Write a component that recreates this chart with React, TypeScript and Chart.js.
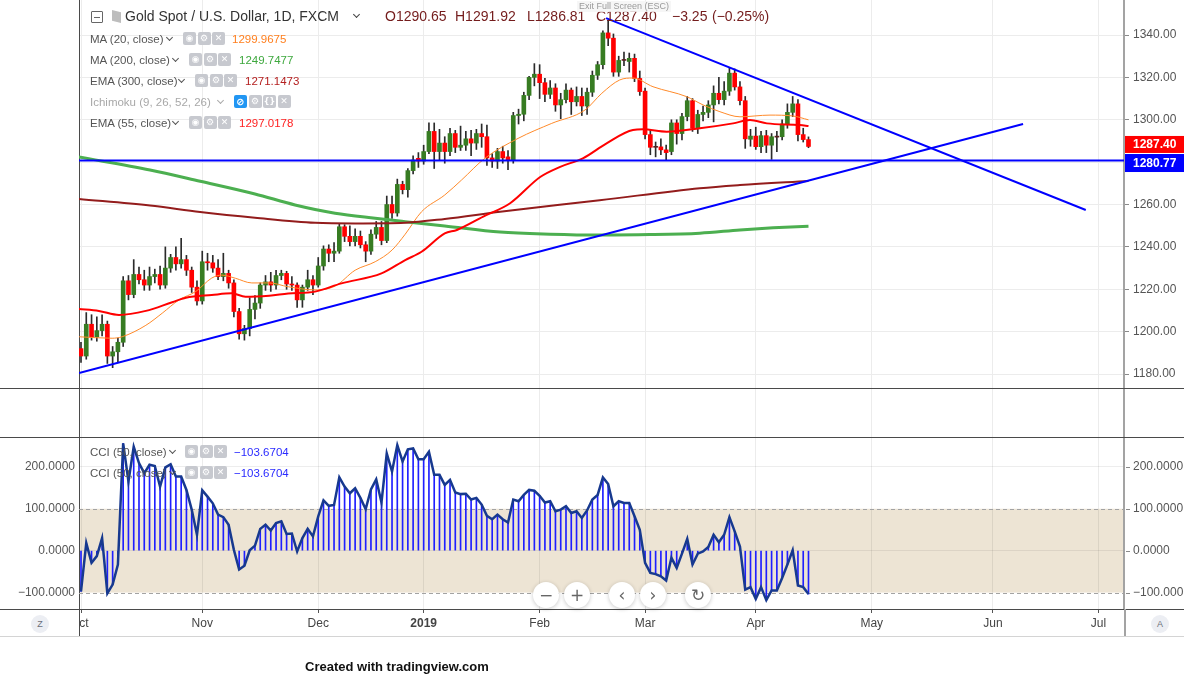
import React, { useEffect, useRef } from 'react';
import { Chart, registerables } from 'chart.js';

Chart.register(...registerables);

const FONT = "'Liberation Sans', Arial, sans-serif";
const SYM = "'DejaVu Sans', sans-serif";

// ---------------- data ----------------
const monthTickIdx = [0, 23, 45, 65, 87, 107, 128, 150, 173, 193];
const monthLabels = ['\u2002ct', 'Nov', 'Dec', '2019', 'Feb', 'Mar', 'Apr', 'May', 'Jun', 'Jul'];
const priceTicks = [1180, 1200, 1220, 1240, 1260, 1280, 1300, 1320, 1340];
const cciTicks = [-100, 0, 100, 200];

const opens = [
  1192, 1188.5, 1203.5, 1197.5, 1200.5, 1203.5, 1188.5, 1190.5, 1195, 1224,
  1217.5, 1227, 1224.5, 1222, 1226, 1227, 1222, 1230, 1235, 1232,
  1234, 1229, 1221, 1214.5, 1233, 1232.5, 1230, 1226, 1227.5, 1223,
  1209.5, 1199, 1201.5, 1210.5, 1213.5, 1222, 1223.5, 1222, 1226.5, 1227.5,
  1222.5, 1222, 1215, 1221, 1224.5, 1222, 1231, 1239, 1237, 1238,
  1249.5, 1245, 1242.5, 1245, 1241, 1238, 1246, 1249.2, 1243, 1260,
  1256, 1269.5, 1267, 1276, 1281.8, 1280.5, 1285, 1294.5, 1285, 1289,
  1285, 1293.5, 1287, 1288, 1291, 1289, 1293.5, 1292, 1282, 1280.5,
  1285, 1282.5, 1281, 1302, 1302.6, 1311.5, 1320, 1321.5, 1317.5, 1312,
  1315, 1307, 1309.5, 1314, 1308.5, 1311, 1306.5, 1313, 1321, 1326,
  1341, 1338.5, 1322.5, 1328, 1327.5, 1329, 1319.5, 1313.5, 1293, 1287,
  1287.2, 1285.8, 1285, 1298.5, 1293.5, 1301.5, 1309, 1296, 1302.5, 1303.5,
  1307, 1312.5, 1309.5, 1313.5, 1322, 1315.5, 1309, 1290.8, 1292.3, 1287.3,
  1292.5, 1288, 1292, 1292, 1298, 1303.5, 1307.5, 1293, 1290.65,
];
const highs = [
  1195, 1209, 1208, 1207, 1208, 1205, 1193, 1197, 1226, 1226.5,
  1234, 1230.5, 1229, 1230.5, 1229.5, 1231, 1240, 1236.5, 1240, 1244,
  1236, 1230.5, 1224, 1238, 1237, 1236, 1234, 1237, 1229, 1224.5,
  1211, 1203, 1216, 1217, 1223, 1226.5, 1228, 1229, 1229, 1228.5,
  1226, 1223, 1222, 1229, 1226.5, 1235, 1240.5, 1241, 1242, 1251,
  1250.5, 1250, 1248.5, 1247.5, 1242.5, 1248, 1252, 1252, 1264, 1264,
  1272, 1271, 1277, 1283, 1284.5, 1288, 1298.5, 1298.5, 1295.5, 1292,
  1296, 1295, 1297, 1294.5, 1295, 1295.5, 1298, 1297.5, 1284, 1286.5,
  1287.5, 1285.5, 1303.5, 1305, 1313, 1320.5, 1326.5, 1326, 1319.5, 1318.5,
  1317, 1312.5, 1317, 1315, 1315.5, 1315, 1315, 1323, 1327.5, 1342,
  1347, 1340.5, 1330, 1332, 1331.5, 1331, 1323, 1315, 1295, 1289.5,
  1291, 1288, 1300, 1300, 1303, 1311, 1310, 1304.5, 1306.5, 1309,
  1316, 1320, 1318, 1324.5, 1324, 1318, 1311, 1295.5, 1296.5, 1294.5,
  1295, 1293.5, 1294.5, 1300, 1307.5, 1311, 1309.5, 1296, 1291.92,
];
const lows = [
  1185.5, 1187, 1196, 1195.5, 1198, 1185, 1183, 1185.5, 1193, 1215,
  1216, 1222.5, 1219.5, 1219.5, 1223, 1220, 1220.5, 1228, 1229, 1230,
  1226.5, 1218.5, 1212.5, 1213, 1229, 1228, 1224.5, 1224, 1220.5, 1207,
  1196.5, 1196, 1198, 1206, 1211, 1219.5, 1219, 1220, 1224.5, 1220,
  1219.5, 1211.5, 1211.5, 1219.5, 1217.5, 1221, 1229, 1233, 1233, 1237,
  1242.5, 1240.5, 1240.5, 1239.5, 1233, 1236.5, 1244, 1241, 1242, 1253.5,
  1254.5, 1265, 1263.5, 1274.5, 1277.5, 1279, 1284, 1277, 1281, 1279.5,
  1283, 1284.5, 1285.5, 1285.5, 1283, 1286, 1287, 1278.5, 1277.5, 1277,
  1279.5, 1276.5, 1279.5, 1298, 1299.5, 1309.5, 1316, 1310, 1308.5, 1310,
  1304, 1300.5, 1308, 1302.5, 1306.5, 1302, 1302.5, 1311, 1319, 1324,
  1335, 1320.5, 1320.5, 1325.5, 1322.5, 1318, 1311.5, 1291, 1283.5, 1282.5,
  1283.5, 1281, 1283.5, 1288.5, 1290.5, 1299.5, 1294.5, 1293.5, 1299.5, 1301,
  1299, 1307.5, 1307, 1311.5, 1314, 1307, 1286.5, 1287.5, 1286, 1284.5,
  1284.5, 1281.3, 1285, 1290.5, 1296, 1301.5, 1290, 1289.5, 1286.81,
];
const closes = [
  1188.5, 1203.5, 1197.5, 1200.5, 1203.5, 1188.5, 1190.5, 1195, 1224, 1217.5,
  1227, 1224.5, 1222, 1226, 1227, 1222, 1230, 1235, 1232, 1234,
  1229, 1221, 1214.5, 1233, 1232.5, 1230, 1226, 1227.5, 1223, 1209.5,
  1199, 1201.5, 1210.5, 1213.5, 1222, 1223.5, 1222, 1226.5, 1227.5, 1222.5,
  1222, 1215, 1221, 1224.5, 1222, 1231, 1239, 1237, 1238, 1249.5,
  1245, 1242.5, 1245, 1241, 1238, 1246, 1249.2, 1243, 1260, 1256,
  1269.5, 1267, 1276, 1281, 1280.5, 1285, 1294.5, 1285, 1289, 1285,
  1293.5, 1287, 1288, 1291, 1289, 1293.5, 1292, 1282, 1280.5, 1285,
  1282, 1281, 1302, 1302.6, 1311.5, 1320, 1321.5, 1317.5, 1312, 1315,
  1307, 1309.5, 1314, 1308.5, 1311, 1306.5, 1313, 1321, 1326, 1341,
  1338.5, 1322.5, 1328, 1328.2, 1329, 1319.5, 1313.3, 1293, 1287, 1287.2,
  1285.8, 1284.5, 1298.5, 1293.5, 1301.5, 1309, 1296, 1302.5, 1303.5, 1307,
  1312.5, 1309.5, 1313.5, 1322, 1315.5, 1309, 1291, 1292.3, 1287.3, 1292.5,
  1288, 1292, 1291.8, 1298, 1303.5, 1307.5, 1293, 1290.65, 1287.4,
];
const cciValues = [
  -97, 18, -29, -13, 30, -102, -81, -33, 256, 165,
  248, 209, 185, 205, 202, 153, 199, 206, 177, 177,
  145, 98, 38, 144, 129, 113, 86, 80, 62, 2,
  -45, -36, 1, 12, 52, 62, 48, 66, 70, 40,
  41, -2, 30, 52, 34, 82, 120, 107, 109, 175,
  153, 137, 149, 126, 99, 146, 170, 115, 232, 189,
  252, 213, 242, 244, 218, 218, 236, 181, 181, 157,
  169, 139, 135, 136, 122, 126, 110, 83, 75, 86,
  75, 67, 122, 118, 133, 145, 143, 131, 115, 118,
  94, 98, 106, 90, 94, 78, 96, 122, 133, 175,
  159, 106, 118, 114, 114, 82, 50, -29, -53, -56,
  -61, -71, -17, -41, -7, 28, -33, -7, -2, 9,
  38, 20, 38, 80, 46, 10, -93, -87, -115, -87,
  -118, -95, -95, -65, -33, 1, -83, -87, -103.67,
];

const ma20Idx = [-0.4, 5.9, 7.8, 12.3, 15.4, 18.6, 21.8, 24.8, 26.7, 29.3, 32.4, 35.7, 39.3, 44.4, 48.2, 52, 55.8, 59, 61.5, 64.6, 69, 72.2, 76.6, 82.9, 89.3, 95.6, 98.8, 102.2, 104.7, 108.5, 114.9, 118, 121.2, 125, 130.7, 135, 138];
const ma20Val = [1197.6, 1196.9, 1197.6, 1203, 1208.7, 1215, 1219, 1225.3, 1226.7, 1225.2, 1223, 1223, 1221.2, 1219.7, 1221.5, 1229, 1233, 1238.5, 1246, 1256.6, 1264.5, 1271.6, 1281.8, 1291.2, 1298.3, 1304.6, 1312.5, 1318.8, 1319.7, 1315.6, 1310.9, 1307, 1303.8, 1301.4, 1302.2, 1301.8, 1299.97];
const ema55Idx = [-0.4, 3.4, 7.2, 12.3, 17.3, 19.9, 24.8, 28.6, 31.2, 35.7, 39.3, 44.4, 49.4, 57, 61.5, 64.6, 69, 71.3, 76.3, 81.4, 87.1, 90.9, 95.2, 99.7, 104.7, 106.6, 111.1, 117.4, 123.7, 126.9, 130.1, 136.4, 138];
const ema55Val = [1210.7, 1209.8, 1207.9, 1209.8, 1213.9, 1216, 1217.3, 1218.1, 1216.5, 1217, 1218, 1218.9, 1222.8, 1227.5, 1233.8, 1237.7, 1246.4, 1248, 1254.3, 1260.6, 1273, 1277.8, 1281.8, 1288.9, 1295.2, 1295.5, 1294.4, 1296, 1298.3, 1299.9, 1298.3, 1297.5, 1297.02];
const ema300Idx = [-0.4, 13.1, 22.6, 33, 44.4, 52, 61.5, 69, 79.5, 98.4, 117.4, 125, 138];
const ema300Val = [1262.6, 1259.5, 1256.5, 1253.8, 1251.4, 1251.1, 1251.4, 1253.2, 1256.6, 1262, 1267.7, 1269.2, 1271.15];
const ma200Idx = [-0.4, 13.1, 22.6, 33, 40.6, 48.2, 55.8, 61.5, 69, 79.5, 89, 98.4, 107.9, 117.4, 125, 131.3, 138];
const ma200Val = [1282.4, 1276.3, 1271, 1265, 1259.8, 1255.9, 1253.5, 1251.9, 1249.9, 1247, 1246, 1245.6, 1245.8, 1246.5, 1248, 1249, 1249.75];

const supportIdx = [-0.38, 178.7];
const supportVal = [1180.5, 1298.0];
const resistIdx = [99.6, 190.6];
const resistVal = [1348.0, 1257.4];
const hLevel = 1280.77;
const lastClose = 1287.4;

// ---------------- axis ranges ----------------
const xMin = -0.38, xMax = 197.85;
const pMin = 1069.12, pMax = 1356.52;
const cMin = -139.2, cMax = 1314.3;

const fmtCci = (v: number) => (v < 0 ? '\u2212' : '') + Math.abs(v).toFixed(4);
const pts = (xs: number[], ys: number[]) => xs.map((x, i) => ({ x, y: ys[i] }));

const decor = {
  id: 'decor',
  beforeDraw(chart: any) {
    const { ctx, chartArea: a, scales } = chart;
    const yC = scales.yC;
    const t = yC.getPixelForValue(100), b = yC.getPixelForValue(-100);
    ctx.save();
    ctx.fillStyle = '#ede4d4';
    ctx.fillRect(a.left, t, a.right - a.left, b - t);
    ctx.restore();
  },
  beforeDatasetsDraw(chart: any) {
    const { ctx, chartArea: a, scales } = chart;
    const yC = scales.yC;
    ctx.save();
    ctx.strokeStyle = '#a3a3a3';
    ctx.lineWidth = 1;
    ctx.setLineDash([4, 3]);
    [100, -100].forEach((v) => {
      const y = Math.round(yC.getPixelForValue(v)) + 0.5;
      ctx.beginPath(); ctx.moveTo(a.left, y); ctx.lineTo(a.right, y); ctx.stroke();
    });
    ctx.restore();
  },
  afterDraw(chart: any) {
    const { ctx, chartArea: a, scales, width } = chart;
    const yP = scales.yP, yC = scales.yC;
    const ln = (x1: number, y1: number, x2: number, y2: number) => { ctx.beginPath(); ctx.moveTo(x1, y1); ctx.lineTo(x2, y2); ctx.stroke(); };
    ctx.save();
    ctx.lineWidth = 1;
    ctx.strokeStyle = '#4a4a4a';
    [388, 437, a.bottom].forEach((y0: number) => { const y = Math.round(y0) + 0.5; ln(0, y, width, y); });
    ctx.strokeStyle = '#d4d4d4';
    ln(0, 636.5, width, 636.5);
    ctx.strokeStyle = '#4a4a4a';
    ln(a.left + 0.5, a.bottom, a.left + 0.5, 636);
    ctx.strokeStyle = '#a3a3a3'; ctx.lineWidth = 2;
    ln(a.right + 1, a.bottom, a.right + 1, 636);
    // right-side CCI scale labels
    ctx.lineWidth = 1;
    ctx.strokeStyle = '#8a8a8a';
    ctx.fillStyle = '#555';
    ctx.font = `12px ${FONT}`;
    ctx.textAlign = 'left';
    ctx.textBaseline = 'middle';
    cciTicks.forEach((v) => {
      const y = yC.getPixelForValue(v);
      ln(a.right + 2, Math.round(y) + 0.5, a.right + 6, Math.round(y) + 0.5);
      ctx.fillText(fmtCci(v), a.right + 9, y);
    });
    // price labels
    const box = (val: number, color: string, dy: number, h: number) => {
      const y = yP.getPixelForValue(val);
      ctx.fillStyle = color;
      ctx.fillRect(a.right + 1, y + dy, width - a.right - 1, h);
      ctx.fillStyle = '#fff';
      ctx.font = `bold 12px ${FONT}`;
      ctx.fillText(val.toFixed(2), a.right + 9, y + dy + h / 2 + 0.5);
    };
    box(lastClose, '#ff0000', -10.5, 17);
    box(hLevel, '#0000ff', -6.5, 18);
    ctx.restore();
  },
};

const IconBox = ({ glyph, bg = '#c7c9cf', size = 9 }: any) => (
  <span style={{ display: 'inline-flex', width: 13, height: 13, background: bg, borderRadius: 2, color: '#fff', fontSize: size, alignItems: 'center', justifyContent: 'center', marginRight: 1.5, fontFamily: SYM, lineHeight: '13px', fontWeight: 'bold' }}>{glyph}</span>
);

const Chev = ({ left, top, color = '#555' }: any) => (
  <span style={{ position: 'absolute', left, top, width: 4, height: 4, borderRight: `1.4px solid ${color}`, borderBottom: `1.4px solid ${color}`, transform: 'rotate(45deg)' }} />
);

const legendRows = [
  { label: 'MA (20, close)', chev: 167, icons: 183, valueLeft: 232, value: '1299.9675', color: '#ff7f1e', y: 39 },
  { label: 'MA (200, close)', chev: 173, icons: 189, valueLeft: 239, value: '1249.7477', color: '#3ea83e', y: 60 },
  { label: 'EMA (300, close)', chev: 179, icons: 195, valueLeft: 245, value: '1271.1473', color: '#b42020', y: 81 },
  { label: 'Ichimoku (9, 26, 52, 26)', chev: 218, icons: 234, valueLeft: 0, value: '', color: '', y: 102, dim: true },
  { label: 'EMA (55, close)', chev: 173, icons: 189, valueLeft: 239, value: '1297.0178', color: '#ff1f1f', y: 123 },
];
const cciRows = [
  { label: 'CCI (50, close)', y: 452 },
  { label: 'CCI (50, close)', y: 473 },
];
const ohlcParts = [
  { t: 'O1290.65', x: 385 }, { t: 'H1291.92', x: 455 }, { t: 'L1286.81', x: 527 },
  { t: 'C1287.40', x: 596 }, { t: '\u22123.25', x: 672 }, { t: '(\u22120.25%)', x: 712 },
];
const navButtons = [
  { g: '\u2212', x: 546 }, { g: '+', x: 577 }, { g: '\u2039', x: 622 }, { g: '\u203a', x: 653 }, { g: '\u21bb', x: 698 },
];

export default function App() {
  const ref = useRef<HTMLCanvasElement>(null);

  useEffect(() => {
    const canvas = ref.current as HTMLCanvasElement;
    const idx = opens.map((_, i) => i);
    const bodyColors = idx.map((i) => (Math.abs(closes[i] - opens[i]) < 0.4 ? '#5a1e1e' : closes[i] > opens[i] ? '#377c22' : '#ff0000'));
    const lineDs = (data: any[], color: string, width: number, extra: any = {}) => ({
      type: 'line', data, borderColor: color, borderWidth: width, pointRadius: 0, fill: false,
      tension: 0, xAxisID: 'x', yAxisID: 'yP', ...extra,
    });
    const chart = new Chart(canvas, {
      type: 'bar',
      data: {
        datasets: [
          lineDs(pts([xMin, xMax], [hLevel, hLevel]), '#0000ff', 2),
          lineDs(pts(supportIdx, supportVal), '#0000ff', 2),
          lineDs(pts(resistIdx, resistVal), '#0000ff', 2),
          lineDs(pts(ema55Idx, ema55Val), '#ff0000', 2, { cubicInterpolationMode: 'monotone' }),
          lineDs(pts(ema300Idx, ema300Val), '#931c1c', 2, { cubicInterpolationMode: 'monotone' }),
          lineDs(pts(ma200Idx, ma200Val), '#4caf50', 3, { cubicInterpolationMode: 'monotone' }),
          lineDs(pts(ma20Idx, ma20Val), '#ff8a2a', 1, { cubicInterpolationMode: 'monotone' }),
          {
            type: 'bar', data: idx.map((i) => ({ x: i, y: [opens[i], closes[i]] })),
            backgroundColor: bodyColors, barThickness: 4, minBarLength: 1, grouped: false,
            xAxisID: 'x', yAxisID: 'yP',
          },
          {
            type: 'bar', data: idx.map((i) => ({ x: i, y: [lows[i], highs[i]] })),
            backgroundColor: '#2b2b2b', barThickness: 1, grouped: false, xAxisID: 'x', yAxisID: 'yP',
          },
          lineDs(pts(idx, cciValues), '#17398f', 2.5, { yAxisID: 'yC' }),
          {
            type: 'bar', data: idx.map((i) => ({ x: i, y: [0, cciValues[i]] })),
            backgroundColor: '#1f1fff', barThickness: 1, grouped: false, xAxisID: 'x', yAxisID: 'yC',
          },
        ] as any,
      },
      options: {
        responsive: false,
        animation: false,
        devicePixelRatio: 1,
        events: [],
        layout: { padding: { left: 0, right: 0, top: 0, bottom: 48 } },
        plugins: { legend: { display: false }, tooltip: { enabled: false } },
        scales: {
          x: {
            type: 'linear', min: xMin, max: xMax, offset: false, position: 'bottom',
            afterBuildTicks: (s: any) => { s.ticks = monthTickIdx.map((v) => ({ value: v })); },
            afterFit: (s: any) => { s.height = 27; s.paddingLeft = 0; s.paddingRight = 0; },
            grid: { offset: false, color: 'rgba(0,0,0,0.075)', tickLength: 4, tickColor: '#555', drawTicks: true },
            border: { display: true, color: '#4a4a4a', width: 1 },
            ticks: {
              autoSkip: false, maxRotation: 0, padding: 3, color: '#444',
              font: (c: any) => ({ family: FONT, size: 12, weight: c.tick && c.tick.value === 65 ? 'bold' : 'normal' }),
              callback: (v: any) => { const k = monthTickIdx.indexOf(Number(v)); return k >= 0 ? monthLabels[k] : ''; },
            },
          },
          yP: {
            type: 'linear', position: 'right', min: pMin, max: pMax,
            afterBuildTicks: (s: any) => { s.ticks = priceTicks.map((v) => ({ value: v })); },
            afterFit: (s: any) => { s.width = 60; s.paddingTop = 0; s.paddingBottom = 0; },
            grid: { color: '#ececec', tickLength: 5, tickColor: '#8a8a8a' },
            border: { color: '#a3a3a3', width: 2 },
            ticks: { padding: 4, color: '#555', font: { family: FONT, size: 12 }, callback: (v: any) => Number(v).toFixed(2) },
          },
          yC: {
            type: 'linear', position: 'left', min: cMin, max: cMax,
            afterBuildTicks: (s: any) => { s.ticks = cciTicks.map((v) => ({ value: v })); },
            afterFit: (s: any) => { s.width = 79; s.paddingTop = 0; s.paddingBottom = 0; },
            grid: {
              drawTicks: false,
              color: (c: any) => (c.tick && (c.tick.value === 200 || c.tick.value === 0) ? 'rgba(0,0,0,0.07)' : 'rgba(0,0,0,0)'),
            },
            border: { color: '#4a4a4a', width: 1 },
            ticks: { padding: 4, color: '#555', font: { family: FONT, size: 12 }, callback: (v: any) => fmtCci(Number(v)) },
          },
        },
      } as any,
      plugins: [decor as any],
    });
    return () => chart.destroy();
  }, []);

  const txt = (extra: any) => ({ position: 'absolute', fontFamily: FONT, whiteSpace: 'nowrap', ...extra });

  return (
    <div style={{ position: 'absolute', left: 0, top: 0, width: 1184, height: 684, background: '#fff', overflow: 'hidden' }}>
      <canvas ref={ref} width={1184} height={684} style={{ position: 'absolute', left: 0, top: 0, width: 1184, height: 684 }} />

      {/* header */}
      <div style={{ position: 'absolute', left: 91, top: 11, width: 10, height: 10, border: '1px solid #666', borderRadius: 1 }}>
        <div style={{ position: 'absolute', left: 2, top: 4.5, width: 6, height: 1, background: '#666' }} />
      </div>
      <div style={{ position: 'absolute', left: 112, top: 10, width: 9, height: 13, background: '#bdbdbd', clipPath: 'polygon(0 0, 100% 18%, 100% 100%, 0 82%)' }} />
      <div style={txt({ left: 125, top: 8, fontSize: 14, lineHeight: '17px', color: '#333' })}>Gold Spot / U.S. Dollar, 1D, FXCM</div>
      <Chev left={354} top={12} color="#444" />
      {ohlcParts.map((p) => (
        <div key={p.x} style={txt({ left: p.x, top: 8, fontSize: 14, lineHeight: '17px', color: '#741c1c' })}>{p.t}</div>
      ))}
      <div style={txt({ left: 577, top: 1, fontSize: 9, lineHeight: '11px', color: '#9a9a9a', background: 'rgba(245,245,245,0.85)', padding: '0 2px' })}>Exit Full Screen (ESC)</div>

      {/* indicator legends */}
      {legendRows.map((r) => (
        <React.Fragment key={r.label}>
          <div style={txt({ left: 90, top: r.y - 8, fontSize: 11.5, lineHeight: '16px', color: r.dim ? '#a8a8a8' : '#555' })}>{r.label}</div>
          <Chev left={r.chev} top={r.y - 4} color={r.dim ? '#aaa' : '#555'} />
          <div style={{ position: 'absolute', left: r.icons, top: r.y - 7, display: 'flex' }}>
            {r.dim ? (
              <>
                <IconBox glyph={'\u2298'} bg="#2196f3" size={10} />
                <IconBox glyph={'\u2699'} />
                <IconBox glyph={'{}'} size={8} />
                <IconBox glyph={'\u2715'} />
              </>
            ) : (
              <>
                <IconBox glyph={'\u25c9'} />
                <IconBox glyph={'\u2699'} />
                <IconBox glyph={'\u2715'} />
              </>
            )}
          </div>
          {r.value && (
            <div style={txt({ left: r.valueLeft, top: r.y - 8, fontSize: 11.5, lineHeight: '16px', color: r.color })}>{r.value}</div>
          )}
        </React.Fragment>
      ))}
      {cciRows.map((r) => (
        <React.Fragment key={r.y}>
          <div style={txt({ left: 90, top: r.y - 8, fontSize: 11.5, lineHeight: '16px', color: '#555' })}>{r.label}</div>
          <Chev left={170} top={r.y - 4} />
          <div style={{ position: 'absolute', left: 185, top: r.y - 7, display: 'flex' }}>
            <IconBox glyph={'\u25c9'} />
            <IconBox glyph={'\u2699'} />
            <IconBox glyph={'\u2715'} />
          </div>
          <div style={txt({ left: 234, top: r.y - 8, fontSize: 11.5, lineHeight: '16px', color: '#2a2aff' })}>{'\u2212103.6704'}</div>
        </React.Fragment>
      ))}

      {/* navigation buttons */}
      {navButtons.map((b) => (
        <div key={b.x} style={{ position: 'absolute', left: b.x - 13, top: 582, width: 26, height: 26, borderRadius: 13, background: '#fff', boxShadow: '0 1px 4px rgba(0,0,0,0.22)', display: 'flex', alignItems: 'center', justifyContent: 'center', color: '#666', fontSize: 17, fontFamily: SYM, lineHeight: '26px' }}>{b.g}</div>
      ))}

      {/* Z / A buttons */}
      {[{ g: 'Z', x: 40 }, { g: 'A', x: 1160 }].map((b) => (
        <div key={b.g} style={{ position: 'absolute', left: b.x - 9, top: 615, width: 18, height: 18, borderRadius: 9, background: '#eceef3', display: 'flex', alignItems: 'center', justifyContent: 'center', color: '#6b6f7a', fontSize: 9, fontFamily: FONT }}>{b.g}</div>
      ))}

      <div style={txt({ left: 305, top: 659, fontSize: 13, lineHeight: '16px', fontWeight: 'bold', color: '#111' })}>Created with tradingview.com</div>
    </div>
  );
}
